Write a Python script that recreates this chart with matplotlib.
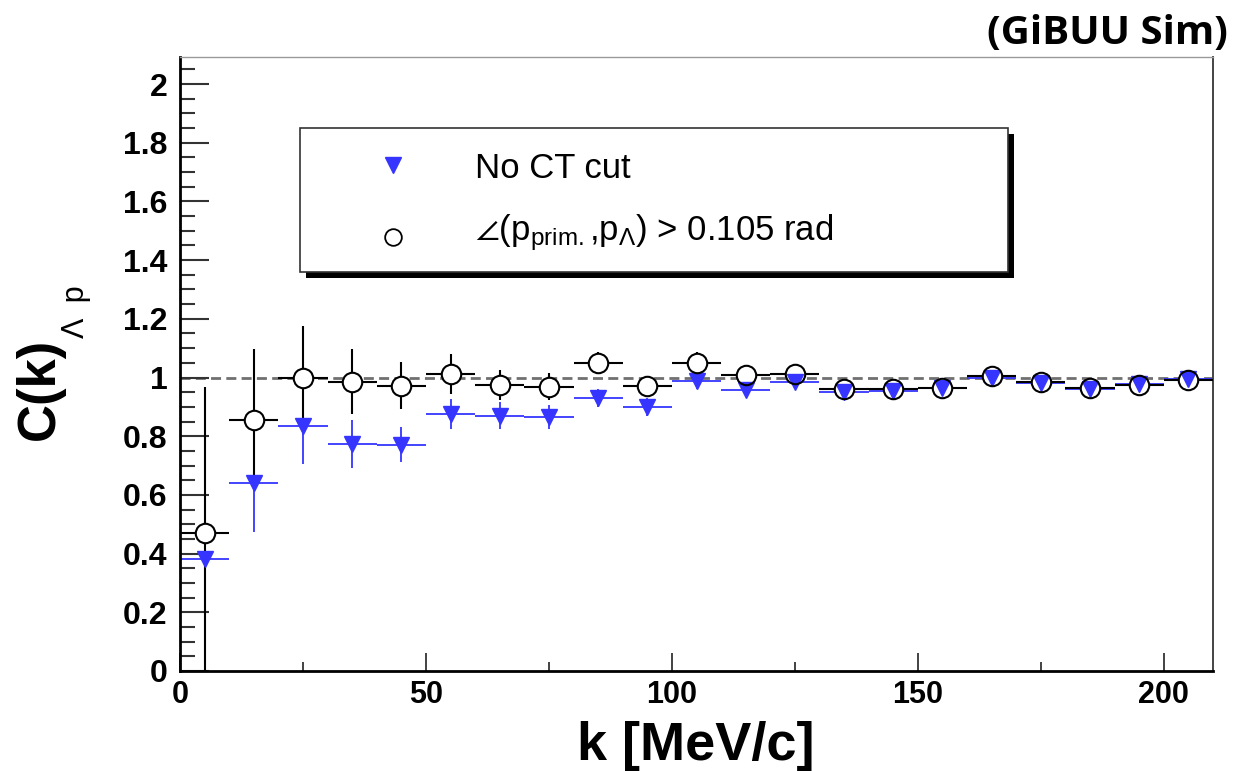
import matplotlib
matplotlib.use("Agg")
import matplotlib.pyplot as plt
from matplotlib import font_manager
from matplotlib.ticker import MultipleLocator, FormatStrFormatter
from matplotlib.lines import Line2D
from matplotlib.patches import Rectangle

# ---- data -------------------------------------------------------------
k_centers = [5, 15, 25, 35, 45, 55, 65, 75, 85, 95, 105,
             115, 125, 135, 145, 155, 165, 175, 185, 195, 205]
bin_half_width = 5

c_no_cut = [0.381, 0.641, 0.835, 0.773, 0.771, 0.875, 0.870, 0.865, 0.930, 0.899, 0.989,
            0.958, 0.986, 0.950, 0.955, 0.965, 1.000, 0.980, 0.962, 0.978, 0.995]
c_no_cut_err = [0.429, 0.166, 0.130, 0.081, 0.060, 0.051, 0.046, 0.041, 0.032, 0.030, 0.028,
                0.026, 0.025, 0.024, 0.022, 0.021, 0.020, 0.020, 0.019, 0.019, 0.018]

c_angle_cut = [0.469, 0.856, 1.000, 0.986, 0.972, 1.013, 0.975, 0.969, 1.051, 0.972, 1.051,
               1.008, 1.012, 0.960, 0.962, 0.965, 1.006, 0.983, 0.963, 0.974, 0.992]
c_angle_cut_err = [0.500, 0.241, 0.176, 0.111, 0.081, 0.068, 0.051, 0.045, 0.035, 0.033, 0.035,
                   0.030, 0.030, 0.025, 0.024, 0.023, 0.022, 0.022, 0.021, 0.021, 0.020]

label_no_cut = "No CT cut"
label_angle_cut = "$\\angle$(p$_{\\mathrm{prim.}}$,p$_{\\mathrm{Λ}}$) > 0.105 rad"


def first_font(names):
    for name in names:
        try:
            font_manager.findfont(font_manager.FontProperties(family=name),
                                  fallback_to_default=False)
            return name
        except Exception:
            continue
    return "DejaVu Sans"


SANS = first_font(["Liberation Sans", "Arial"])
TAG = first_font(["Open Sans", "Lato"])

plt.rcParams["mathtext.fontset"] = "custom"
plt.rcParams["mathtext.rm"] = SANS
plt.rcParams["mathtext.it"] = SANS + ":italic"
plt.rcParams["mathtext.bf"] = SANS + ":bold"
plt.rcParams["mathtext.fallback"] = "stixsans"

BLUE = "#3535ff"

fig = plt.figure(figsize=(12.35, 7.71), dpi=100)
ax = fig.add_axes([180 / 1235, 1 - 671 / 771, 1033 / 1235, 614 / 771])

# reference line at C(k) = 1
ax.axhline(1.0, color="#707070", lw=2.0, ls=(0, (3.6, 1.9)), zorder=1.5)

# no-cut series: bin-width horizontal bars + statistical errors
ax.errorbar(k_centers, c_no_cut, xerr=bin_half_width, yerr=c_no_cut_err,
            fmt="none", ecolor=BLUE, elinewidth=1.3, capsize=0, zorder=2)
# angle-cut series
ax.errorbar(k_centers, c_angle_cut, xerr=bin_half_width, yerr=c_angle_cut_err,
            fmt="none", ecolor="black", elinewidth=1.5, capsize=0, zorder=3)
# keep the inside of the open circles clear of error-bar lines
ax.plot(k_centers, c_angle_cut, "o", ms=14, mfc="white", mec="none", zorder=4)
ax.plot(k_centers, c_no_cut, "v", ms=11.5, color=BLUE, mec=BLUE, zorder=5)
ax.plot(k_centers, c_angle_cut, "o", ms=14, mfc="none", mec="black", mew=1.5, zorder=6)

ax.set_xlim(0, 210)
ax.set_ylim(0, 2.092)

# ---- axes styling --------------------------------------------------------
ax.xaxis.set_major_locator(MultipleLocator(50))
ax.xaxis.set_minor_locator(MultipleLocator(25))
ax.yaxis.set_major_locator(MultipleLocator(0.2))
ax.yaxis.set_minor_locator(MultipleLocator(0.05))
ax.yaxis.set_major_formatter(FormatStrFormatter("%g"))
ax.xaxis.set_major_formatter(FormatStrFormatter("%g"))

ax.tick_params(axis="y", which="major", direction="in", length=21, width=1.5,
               color="#333333", pad=9, left=True, right=False)
ax.tick_params(axis="y", which="minor", direction="in", length=10.5, width=1.5,
               color="#333333", left=True, right=False)
ax.tick_params(axis="x", which="major", direction="in", length=13, width=1.2,
               color="#222222", pad=6.5, bottom=True, top=False)
ax.tick_params(axis="x", which="minor", direction="in", length=6.5, width=1.2,
               color="#222222", bottom=True, top=False)

for lab in ax.get_yticklabels():
    lab.set_fontfamily(SANS)
    lab.set_fontweight("bold")
    lab.set_fontsize(23)
for lab in ax.get_xticklabels():
    lab.set_fontfamily(SANS)
    lab.set_fontweight("bold")
    lab.set_fontsize(22)

ax.spines["left"].set_linewidth(2.0)
ax.spines["bottom"].set_linewidth(2.0)
ax.spines["top"].set_linewidth(1.0)
ax.spines["top"].set_color("#9a9a9a")
ax.spines["right"].set_linewidth(1.4)
ax.spines["right"].set_color("#444444")

ax.set_xlabel("k [MeV/c]", fontfamily=SANS, fontweight="bold", fontsize=39)
ax.xaxis.label.set_va("center")
ax.xaxis.set_label_coords(0.4995, -0.122)

ax.set_ylabel("C(k)", fontfamily=SANS, fontweight="bold", fontsize=38)
ax.yaxis.label.set_va("center")
ax.yaxis.set_label_coords(-0.1355, 0.459)
# subscript of the y title
ax.text(-0.1007, 0.586, "Λ  p", transform=ax.transAxes, rotation=90,
        ha="center", va="center", fontsize=22, family=[SANS, "DejaVu Sans"])

# ---- legend box with drop shadow ------------------------------------------
box_x0, box_y0, box_w, box_h = 0.1162, 0.6498, 0.6853, 0.2346
ax.add_patch(Rectangle((box_x0 + 0.0058, box_y0 - 0.0098), box_w, box_h,
                       transform=ax.transAxes, facecolor="black", edgecolor="none",
                       zorder=7, clip_on=False))
ax.add_patch(Rectangle((box_x0, box_y0), box_w, box_h, transform=ax.transAxes,
                       facecolor="white", edgecolor="#333333", lw=1.2,
                       zorder=8, clip_on=False))

ax.add_line(Line2D([0.206], [0.824], transform=ax.transAxes, marker="v", ms=11,
                   color=BLUE, mec=BLUE, ls="none", zorder=9))
ax.add_line(Line2D([0.206], [0.7068], transform=ax.transAxes, marker="o", ms=12,
                   mfc="none", mec="black", mew=1.3, ls="none", zorder=9))
ax.text(0.2856, 0.803, label_no_cut, transform=ax.transAxes, va="baseline", ha="left",
        fontsize=25, family=[SANS, "DejaVu Sans"], zorder=9)
ax.text(0.2856, 0.702, label_angle_cut, transform=ax.transAxes, va="baseline", ha="left",
        fontsize=25, family=[SANS, "DejaVu Sans"], zorder=9)

fig.text(1228 / 1235, 1 - 33 / 771, "(GiBUU Sim)", ha="right", va="center",
         fontfamily=TAG, fontweight="bold", fontsize=29)

fig.savefig("out.png", dpi=100)
